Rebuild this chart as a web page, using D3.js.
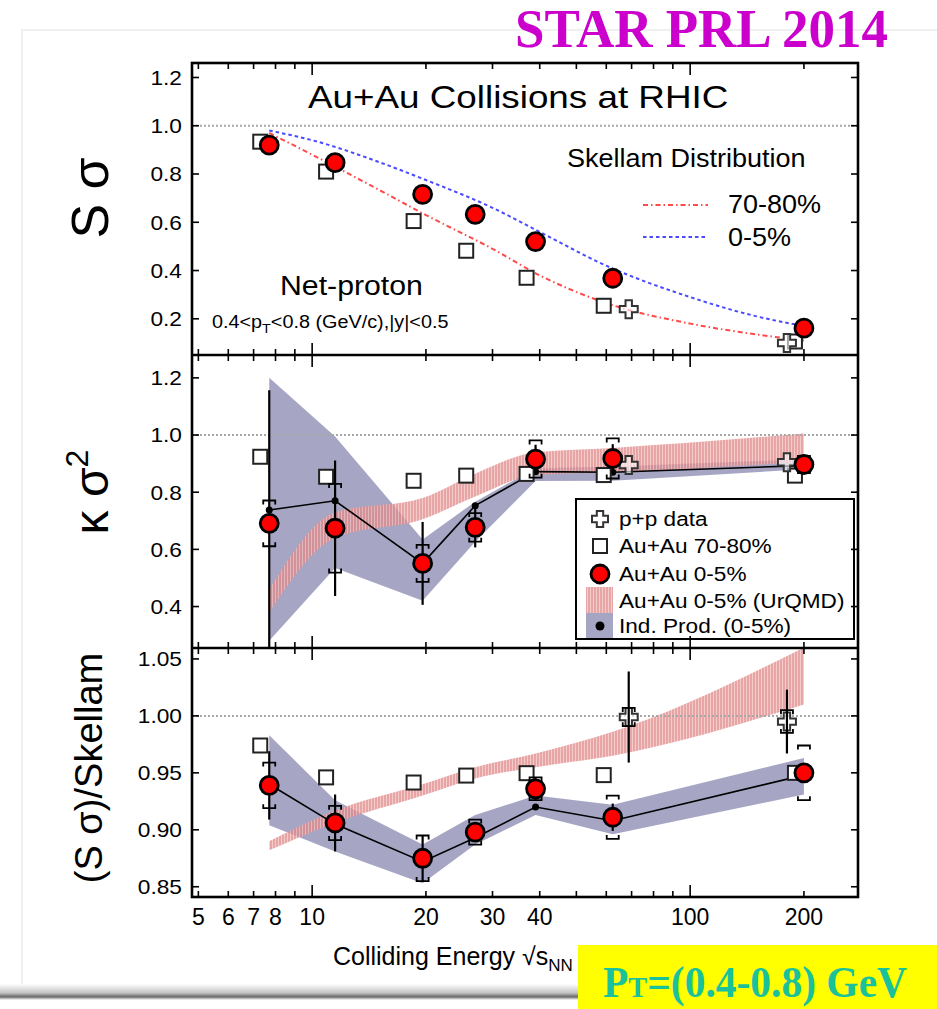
<!DOCTYPE html>
<html>
<head>
<meta charset="utf-8">
<script src="https://cdn.jsdelivr.net/npm/d3@7"></script>
<style>
  body { margin: 0; background: #fff; }
  svg { display: block; }
  text { font-family: "Liberation Sans", Arial, sans-serif; fill: #000; }
</style>
</head>
<body>
<svg id="chart" width="937" height="1009"></svg>
<script>
// ---- Data: net-proton moments vs colliding energy ----
const energies = [7.7, 11.5, 19.6, 27, 39, 62.4, 200];
const ppEnergies = [62.4, 200];

// S*sigma
const ssCentral    = [0.92, 0.847, 0.716, 0.633, 0.52, 0.368, 0.161];
const ssPeripheral = [0.934, 0.81, 0.605, 0.482, 0.37, 0.254, 0.106];
const ssPP         = [0.24, 0.10];
// Skellam expectations
const skellamEnergies   = [7.7, 10, 15, 20, 30, 40, 60, 100, 150, 200];
const skellamCentral    = [0.98, 0.94, 0.85, 0.775, 0.66, 0.56, 0.42, 0.29, 0.21, 0.17];
const skellamPeripheral = [0.97, 0.88, 0.735, 0.63, 0.49, 0.38, 0.265, 0.18, 0.135, 0.11];

// kappa*sigma^2
const kvCentral     = [0.691, 0.674, 0.551, 0.677, 0.916, 0.918, 0.897];
const kvCentralStat = [0.466, 0.237, 0.145, 0.07, 0.05, 0.05, 0.02];
const kvCentralSys  = [0.08, 0.155, 0.065, 0.05, 0.065, 0.07, 0.03];
const kvPeripheral  = [0.924, 0.854, 0.84, 0.858, 0.864, 0.86, 0.858];
const kvPP          = [0.895, 0.905];
const kvIndProd     = [0.738, 0.77, 0.551, 0.753, 0.872, 0.87, 0.893];
const kvIndLow      = [0.28, 0.535, 0.42, 0.627, 0.839, 0.84, 0.88];
const kvIndHigh     = [1.20, 0.995, 0.635, 0.767, 0.884, 0.89, 0.915];
const kvUrqmdLow    = [0.38, 0.64, 0.705, 0.785, 0.86, 0.87, 0.905];
const kvUrqmdHigh   = [0.46, 0.73, 0.78, 0.865, 0.94, 0.955, 1.005];

// (S*sigma)/Skellam
const svCentral     = [0.939, 0.906, 0.875, 0.898, 0.936, 0.911, 0.95];
const svCentralStat = [0.03, 0.025, 0.02, 0.008, 0.01, 0.012, 0.008];
const svCentralSys  = [0.02, 0.015, 0.02, 0.011, 0.01, 0.019, 0.024];
const svPeripheral  = [0.974, 0.946, 0.9415, 0.9476, 0.9497, 0.948, 0.95];
const svPP          = [0.999, 0.995];
const svPPStat      = [0.04, 0.028];
const svPPSys       = [0.008, 0.01];
const svIndProd     = [0.94, 0.905, 0.872, 0.893, 0.92, 0.908, 0.948];
const svIndLow      = [0.904, 0.881, 0.853, 0.887, 0.913, 0.896, 0.931];
const svIndHigh     = [0.983, 0.926, 0.887, 0.913, 0.93, 0.922, 0.963];
const svUrqmdLow    = [0.882, 0.906, 0.93, 0.945, 0.955, 0.965, 1.01];
const svUrqmdHigh   = [0.89, 0.917, 0.94, 0.955, 0.967, 0.986, 1.06];

// Axis ticks
const xTickValues = [5, 6, 7, 8, 9, 10, 20, 30, 40, 50, 60, 70, 80, 90, 100, 200];
const xTickLabels = [5, 6, 7, 8, 10, 20, 30, 40, 100, 200];
const ssTicks = [0.2, 0.4, 0.6, 0.8, 1.0, 1.2];
const kvTicks = [0.4, 0.6, 0.8, 1.0, 1.2];
const svTicks = [0.85, 0.90, 0.95, 1.00, 1.05];

// ---- Layout ----
const svg = d3.select('#chart');
const X0 = 192, X1 = 858;
const x = d3.scaleLog().domain([4.81, 278]).range([X0, X1]);
const SERIF = '"Liberation Serif", "Times New Roman", serif';

const panels = [
  { top: 63,  bottom: 355, domain: [0.05, 1.26],   ticks: ssTicks, fmt: d3.format('.1f') },
  { top: 355, bottom: 648, domain: [0.255, 1.28],  ticks: kvTicks, fmt: d3.format('.1f') },
  { top: 648, bottom: 897, domain: [0.841, 1.0596], ticks: svTicks, fmt: d3.format('.2f') }
];
panels.forEach(p => { p.y = d3.scaleLinear().domain(p.domain).range([p.bottom, p.top]); });

// stretch text horizontally by factor k
function stretch(sel, k) {
  sel.each(function () {
    const w = this.getComputedTextLength();
    d3.select(this).attr('textLength', w * k).attr('lengthAdjust', 'spacingAndGlyphs');
  });
  return sel;
}

// ---- defs ----
const defs = svg.append('defs');
panels.forEach((p, i) => {
  defs.append('clipPath').attr('id', 'clip' + i)
    .append('rect').attr('x', X0).attr('y', p.top).attr('width', X1 - X0).attr('height', p.bottom - p.top);
});
const pat = defs.append('pattern').attr('id', 'urqmd').attr('patternUnits', 'userSpaceOnUse')
  .attr('width', 3).attr('height', 3);
pat.append('rect').attr('width', 3).attr('height', 3).attr('fill', '#e08c8c');
pat.append('rect').attr('x', 2).attr('width', 1).attr('height', 3).attr('fill', '#f0bcbc');

const shadow = defs.append('linearGradient').attr('id', 'shadow').attr('x1', 0).attr('x2', 0).attr('y1', 0).attr('y2', 1);
shadow.append('stop').attr('offset', 0).attr('stop-color', '#ffffff');
shadow.append('stop').attr('offset', 0.55).attr('stop-color', '#c4c4c4');
shadow.append('stop').attr('offset', 0.8).attr('stop-color', '#6a6a6a');
shadow.append('stop').attr('offset', 1).attr('stop-color', '#ffffff');

// slide frame around the figure
svg.append('rect').attr('x', 22).attr('y', 30).attr('width', 930).attr('height', 958)
  .attr('fill', '#fff').attr('stroke', '#ececec').attr('stroke-width', 1.5);
svg.append('rect').attr('x', 0).attr('y', 984).attr('width', 937).attr('height', 16).attr('fill', 'url(#shadow)');

// ---- helpers ----
const BLUE_FILL = '#8a87b0';
function band(g, p, xs, lo, hi, curve, fill, op) {
  const area = d3.area().x((d, i) => x(xs[i])).y0((d, i) => p.y(lo[i])).y1((d, i) => p.y(hi[i])).curve(curve);
  g.append('path').datum(xs).attr('d', area).attr('fill', fill).attr('opacity', op);
}
function refLine(g, p, v) {
  g.append('line').attr('x1', X0).attr('x2', X1).attr('y1', p.y(v)).attr('y2', p.y(v))
    .attr('stroke', '#a8a8a8').attr('stroke-width', 2).attr('stroke-dasharray', '2,2');
}
function indProd(g, p, vals) {
  const line = d3.line().x((d, i) => x(energies[i])).y(d => p.y(d));
  g.append('path').datum(vals).attr('d', line).attr('fill', 'none').attr('stroke', '#000').attr('stroke-width', 1.6);
  g.selectAll(null).data(vals).enter().append('circle')
    .attr('cx', (d, i) => x(energies[i])).attr('cy', d => p.y(d)).attr('r', 3.5).attr('fill', '#000');
}
function squares(g, p, vals, dx) {
  const s = 14;
  g.selectAll(null).data(vals).enter().append('rect')
    .attr('x', (d, i) => x(energies[i]) + dx - s / 2).attr('y', d => p.y(d) - s / 2)
    .attr('width', s).attr('height', s).attr('fill', '#fff').attr('stroke', '#222').attr('stroke-width', 2);
}
const crossPath = (a, L) => `M${-a},${-L}H${a}V${-a}H${L}V${a}H${a}V${L}H${-a}V${a}H${-L}V${-a}H${-a}Z`;
function crosses(g, p, vals, nudges) {
  g.selectAll(null).data(vals).enter().append('path')
    .attr('d', crossPath(3.2, 9))
    .attr('transform', (d, i) => `translate(${x(ppEnergies[i]) + nudges[i]},${p.y(d)})`)
    .attr('fill', '#fff').attr('fill-opacity', 0.6).attr('stroke', '#333').attr('stroke-width', 2);
}
function errors(g, p, xs, vals, stat, sys, nudges) {
  vals.forEach((v, i) => {
    const cx = x(xs[i]) + (nudges ? nudges[i] : 0);
    if (stat && stat[i]) {
      g.append('line').attr('x1', cx).attr('x2', cx).attr('y1', p.y(v - stat[i])).attr('y2', p.y(v + stat[i]))
        .attr('stroke', '#000').attr('stroke-width', 2.2);
    }
    if (sys && sys[i]) {
      const yt = p.y(v + sys[i]), yb = p.y(v - sys[i]), h = 6, t = 4;
      g.append('path').attr('d', `M${cx - h},${yt + t}V${yt}H${cx + h}V${yt + t}M${cx - h},${yb - t}V${yb}H${cx + h}V${yb - t}`)
        .attr('fill', 'none').attr('stroke', '#000').attr('stroke-width', 1.8);
    }
  });
}
function circles(g, p, vals) {
  g.selectAll(null).data(vals).enter().append('circle')
    .attr('cx', (d, i) => x(energies[i])).attr('cy', d => p.y(d)).attr('r', 9)
    .attr('fill', '#ff0000').attr('stroke', '#000').attr('stroke-width', 2.8);
}

const SQ_DX = -9;
const PP_NUDGE = [16, -17];

// ---- Panel 1: S sigma ----
{
  const p = panels[0];
  const g = svg.append('g').attr('clip-path', 'url(#clip0)');
  refLine(g, p, 1.0);
  const line = d3.line().x((d, i) => x(skellamEnergies[i])).y(d => p.y(d)).curve(d3.curveMonotoneX);
  g.append('path').datum(skellamPeripheral).attr('d', line).attr('fill', 'none')
    .attr('stroke', '#ff4a4a').attr('stroke-width', 2).attr('stroke-dasharray', '5,3,1.5,3');
  g.append('path').datum(skellamCentral).attr('d', line).attr('fill', 'none')
    .attr('stroke', '#4a4aff').attr('stroke-width', 2).attr('stroke-dasharray', '3.5,3');
  squares(g, p, ssPeripheral, SQ_DX);
  crosses(g, p, ssPP, PP_NUDGE);
  circles(g, p, ssCentral);

  stretch(svg.append('text').attr('x', 308).attr('y', 108).attr('font-size', 32).text('Au+Au Collisions at RHIC'), 1.15);
  stretch(svg.append('text').attr('x', 567).attr('y', 167).attr('font-size', 25).text('Skellam Distribution'), 1.08);
  svg.append('line').attr('x1', 643).attr('x2', 708).attr('y1', 205).attr('y2', 205)
    .attr('stroke', '#ff4a4a').attr('stroke-width', 2).attr('stroke-dasharray', '5,3,1.5,3');
  svg.append('line').attr('x1', 643).attr('x2', 708).attr('y1', 237).attr('y2', 237)
    .attr('stroke', '#4a4aff').attr('stroke-width', 2).attr('stroke-dasharray', '3.5,3');
  stretch(svg.append('text').attr('x', 728).attr('y', 213).attr('font-size', 25).text('70-80%'), 1.08);
  stretch(svg.append('text').attr('x', 728).attr('y', 246).attr('font-size', 25).text('0-5%'), 1.08);
  stretch(svg.append('text').attr('x', 280).attr('y', 295).attr('font-size', 27).text('Net-proton'), 1.12);
  const t = svg.append('text').attr('x', 212).attr('y', 328).attr('font-size', 18);
  t.append('tspan').text('0.4<p');
  t.append('tspan').attr('font-size', 13).attr('dy', 5).text('T');
  t.append('tspan').attr('dy', -5).text('<0.8 (GeV/c),|y|<0.5');
  stretch(t, 1.1);
}

// ---- Panel 2: kappa sigma^2 ----
{
  const p = panels[1];
  const g = svg.append('g').attr('clip-path', 'url(#clip1)');
  band(g, p, energies, kvIndLow, kvIndHigh, d3.curveLinear, BLUE_FILL, 0.75);
  band(g, p, energies, kvUrqmdLow, kvUrqmdHigh, d3.curveMonotoneX, 'url(#urqmd)', 0.78);
  refLine(g, p, 1.0);
  indProd(g, p, kvIndProd);
  squares(g, p, kvPeripheral, SQ_DX);
  crosses(g, p, kvPP, PP_NUDGE);
  errors(g, p, energies, kvCentral, kvCentralStat, kvCentralSys);
  circles(g, p, kvCentral);

  // legend
  const lg = svg.append('g');
  lg.append('rect').attr('x', 576).attr('y', 499).attr('width', 278).attr('height', 140)
    .attr('fill', '#fff').attr('stroke', '#000').attr('stroke-width', 2);
  const mx = 600;
  lg.append('path').attr('d', crossPath(3.2, 8)).attr('transform', `translate(${mx},519)`)
    .attr('fill', '#fff').attr('stroke', '#333').attr('stroke-width', 2);
  lg.append('rect').attr('x', mx - 7).attr('y', 539).attr('width', 14).attr('height', 14)
    .attr('fill', '#fff').attr('stroke', '#222').attr('stroke-width', 2);
  lg.append('circle').attr('cx', mx).attr('cy', 574).attr('r', 9)
    .attr('fill', '#ff0000').attr('stroke', '#000').attr('stroke-width', 2.8);
  lg.append('rect').attr('x', 586).attr('y', 587).attr('width', 27).attr('height', 26)
    .attr('fill', 'url(#urqmd)').attr('opacity', 0.78);
  lg.append('rect').attr('x', 586).attr('y', 613).attr('width', 27).attr('height', 25)
    .attr('fill', BLUE_FILL).attr('opacity', 0.75);
  lg.append('circle').attr('cx', mx).attr('cy', 626).attr('r', 4.5).attr('fill', '#000');
  const legendText = ['p+p data', 'Au+Au 70-80%', 'Au+Au 0-5%', 'Au+Au 0-5% (UrQMD)', 'Ind. Prod. (0-5%)'];
  const legendY = [526, 553, 581, 608, 633];
  legendText.forEach((s, i) => {
    stretch(lg.append('text').attr('x', 619).attr('y', legendY[i]).attr('font-size', 20).text(s), 1.13);
  });
}

// ---- Panel 3: (S sigma)/Skellam ----
{
  const p = panels[2];
  const g = svg.append('g').attr('clip-path', 'url(#clip2)');
  band(g, p, energies, svIndLow, svIndHigh, d3.curveLinear, BLUE_FILL, 0.75);
  band(g, p, energies, svUrqmdLow, svUrqmdHigh, d3.curveMonotoneX, 'url(#urqmd)', 0.78);
  refLine(g, p, 1.0);
  indProd(g, p, svIndProd);
  squares(g, p, svPeripheral, SQ_DX);
  crosses(g, p, svPP, PP_NUDGE);
  errors(g, p, ppEnergies, svPP, svPPStat, svPPSys, PP_NUDGE);
  errors(g, p, energies, svCentral, svCentralStat, svCentralSys);
  circles(g, p, svCentral);
}

// ---- Frame, ticks and tick labels ----
const axes = svg.append('g');
panels.forEach(p => {
  xTickValues.forEach(v => {
    const L = (v === 10 || v === 100) ? 12 : 6;
    const xx = x(v);
    axes.append('line').attr('x1', xx).attr('x2', xx).attr('y1', p.bottom).attr('y2', p.bottom - L)
      .attr('stroke', '#000').attr('stroke-width', 1.6);
    axes.append('line').attr('x1', xx).attr('x2', xx).attr('y1', p.top).attr('y2', p.top + L)
      .attr('stroke', '#000').attr('stroke-width', 1.6);
  });
  p.ticks.forEach(v => {
    const yy = p.y(v);
    axes.append('line').attr('x1', X0).attr('x2', X0 + 7).attr('y1', yy).attr('y2', yy).attr('stroke', '#000').attr('stroke-width', 1.6);
    axes.append('line').attr('x1', X1).attr('x2', X1 - 7).attr('y1', yy).attr('y2', yy).attr('stroke', '#000').attr('stroke-width', 1.6);
    stretch(axes.append('text').attr('x', 182).attr('y', yy).attr('dy', '0.35em').attr('text-anchor', 'end')
      .attr('font-size', 21).text(p.fmt(v)), 1.08);
  });
});
axes.append('rect').attr('x', X0).attr('y', panels[0].top).attr('width', X1 - X0)
  .attr('height', panels[2].bottom - panels[0].top).attr('fill', 'none').attr('stroke', '#000').attr('stroke-width', 2.6);
[panels[0].bottom, panels[1].bottom].forEach(yy => {
  axes.append('line').attr('x1', X0).attr('x2', X1).attr('y1', yy).attr('y2', yy).attr('stroke', '#000').attr('stroke-width', 2.6);
});
xTickLabels.forEach(v => {
  axes.append('text').attr('x', x(v)).attr('y', 917).attr('dy', '0.35em').attr('text-anchor', 'middle')
    .attr('font-size', 23).text(v);
});

// axis titles
svg.append('text').attr('transform', 'translate(108,198) rotate(-90)').attr('text-anchor', 'middle')
  .attr('font-size', 52).text('S σ');
const kt = svg.append('text').attr('transform', 'translate(108,492) rotate(-90)').attr('text-anchor', 'middle')
  .attr('font-size', 48);
kt.append('tspan').text('κ σ');
kt.append('tspan').attr('font-size', 32).attr('dy', -20).text('2');
svg.append('text').attr('transform', 'translate(102,768) rotate(-90)').attr('text-anchor', 'middle')
  .attr('font-size', 38).text('(S σ)/Skellam');

const xt = svg.append('text').attr('x', 333).attr('y', 965).attr('font-size', 25);
xt.append('tspan').text('Colliding Energy √s');
xt.append('tspan').attr('font-size', 17).attr('dy', 6).text('NN');
xt.append('tspan').attr('dy', -6).text(' (GeV)');

// ---- Slide annotations ----
svg.append('text').attr('x', 515).attr('y', 47).attr('font-size', 54)
  .style('font-family', SERIF).attr('font-weight', 'bold')
  .style('fill', '#cc00cc').attr('textLength', 373).attr('lengthAdjust', 'spacingAndGlyphs').text('STAR PRL 2014');

svg.append('rect').attr('x', 578).attr('y', 945).attr('width', 359).attr('height', 64).attr('fill', '#ffff00');
const pt = svg.append('text').attr('x', 603).attr('y', 997).attr('font-size', 44)
  .style('font-family', SERIF).attr('font-weight', 'bold')
  .style('fill', '#19c29b');
pt.append('tspan').text('P');
pt.append('tspan').attr('font-size', 30).text('T');
pt.append('tspan').text('=(0.4-0.8) GeV');
pt.attr('textLength', 304).attr('lengthAdjust', 'spacingAndGlyphs');
</script>
</body>
</html>
